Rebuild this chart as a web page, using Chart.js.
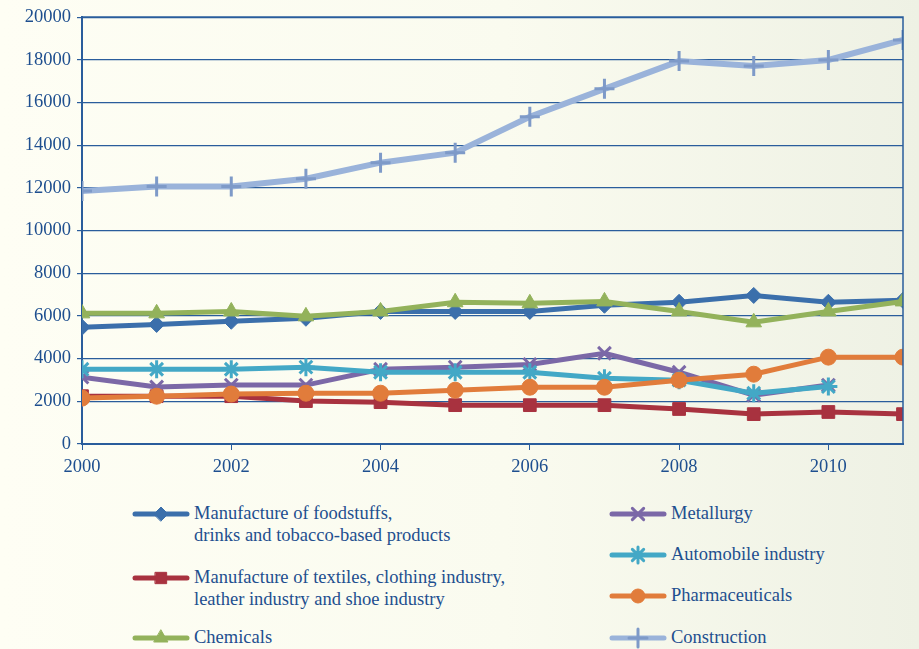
<!DOCTYPE html>
<html>
<head>
<meta charset="utf-8">
<script src="https://cdn.jsdelivr.net/npm/chart.js@4/dist/chart.umd.min.js"></script>
<style>
  body {
    margin: 0;
    width: 919px;
    height: 649px;
    overflow: hidden;
    background: linear-gradient(to right, #fefef4 0%, #fafbef 55%, #eef1e4 100%);
    font-family: "Liberation Serif", "Times New Roman", serif;
    color: #1e4f8f;
  }
  #wrap { position: absolute; left: 0; top: 0; width: 919px; height: 480px; }
  .item { position: absolute; font-size: 18.5px; line-height: 22px; white-space: nowrap; }
  .item canvas { position: absolute; }
</style>
</head>
<body>
<div id="wrap"><canvas id="chart" width="919" height="480"></canvas></div>
<div id="legend"></div>
<script>
const years = [2000, 2001, 2002, 2003, 2004, 2005, 2006, 2007, 2008, 2009, 2010, 2011];

const foodstuffs   = [5470, 5600, 5750, 5890, 6210, 6210, 6210, 6500, 6640, 6960, 6640, 6730];
const textiles     = [2240, 2240, 2240, 2010, 1960, 1820, 1820, 1820, 1640, 1400, 1500, 1400];
const chemicals    = [6120, 6120, 6210, 5980, 6210, 6640, 6590, 6680, 6210, 5700, 6210, 6680];
const metallurgy   = [3130, 2670, 2760, 2760, 3500, 3600, 3730, 4250, 3360, 2290, 2760, null];
const automobile   = [3500, 3500, 3500, 3600, 3360, 3360, 3360, 3080, 2990, 2380, 2690, null];
const pharma       = [2150, 2240, 2340, 2380, 2380, 2520, 2660, 2660, 2990, 3270, 4070, 4070];
const construction = [11850, 12060, 12060, 12430, 13180, 13650, 15330, 16640, 17940, 17710, 17990, 18930];

const seriesNames = [
  ["Manufacture of foodstuffs,", "drinks and tobacco-based products"],
  ["Manufacture of textiles, clothing industry,", "leather industry and shoe industry"],
  ["Chemicals"],
  ["Metallurgy"],
  ["Automobile industry"],
  ["Pharmaceuticals"],
  ["Construction"]
];

const axisColor = "#2a5d9c";
const textColor = "#1e4f8f";
const tickFont = { family: "Liberation Serif", size: 18.5 };

// line colour, marker colour, marker style, radius, stroke width
const styles = [
  { line: "#3b6fab", mark: "#3b6fab", shape: "rectRot",  r: 8,  w: 1 },
  { line: "#a8323f", mark: "#a8323f", shape: "rect",     r: 9,  w: 1 },
  { line: "#93b25b", mark: "#93b25b", shape: "triangle", r: 9,  w: 1 },
  { line: "#7b68a7", mark: "#7b68a7", shape: "crossRot", r: 9,  w: 3 },
  { line: "#43a8c6", mark: "#43a8c6", shape: "star",     r: 9,  w: 3 },
  { line: "#e17c3b", mark: "#e17c3b", shape: "circle",   r: 8,  w: 1 },
  { line: "#9ab3da", mark: "#7e9ac8", shape: "cross",    r: 10, w: 3 }
];

const values = [foodstuffs, textiles, chemicals, metallurgy, automobile, pharma, construction];

function toPoints(arr) {
  const pts = [];
  arr.forEach((v, i) => {
    if (v !== null) pts.push({ x: years[i], y: v });
  });
  return pts;
}

const datasets = values.map((arr, i) => ({
  label: seriesNames[i].join(" "),
  data: toPoints(arr),
  borderColor: styles[i].line,
  borderWidth: i === 6 ? 6 : 5,
  pointStyle: styles[i].shape,
  pointRadius: styles[i].r,
  pointBackgroundColor: styles[i].mark,
  pointBorderColor: styles[i].mark,
  pointBorderWidth: styles[i].w,
  tension: 0,
  order: values.length - 1 - i
}));

// outline of the plot area (top and right edges)
const frame = {
  id: "frame",
  afterDatasetsDraw(chart) {
    const a = chart.chartArea;
    const ctx = chart.ctx;
    ctx.save();
    ctx.strokeStyle = axisColor;
    ctx.lineWidth = 1.5;
    ctx.beginPath();
    ctx.moveTo(a.left, a.top);
    ctx.lineTo(a.right, a.top);
    ctx.lineTo(a.right, a.bottom);
    ctx.stroke();
    ctx.restore();
  }
};

new Chart(document.getElementById("chart"), {
  type: "line",
  data: { datasets },
  plugins: [frame],
  options: {
    responsive: false,
    devicePixelRatio: 1,
    animation: false,
    layout: { padding: { top: 16, right: 16, left: 0, bottom: 0 } },
    plugins: { legend: { display: false }, tooltip: { enabled: false } },
    scales: {
      x: {
        type: "linear",
        min: 2000,
        max: 2011,
        afterFit: (s) => { s.height = 36; },
        grid: { drawOnChartArea: false, tickLength: 6, color: axisColor },
        border: { color: axisColor, width: 2 },
        ticks: {
          stepSize: 2,
          includeBounds: false,
          maxRotation: 0,
          padding: 6,
          color: textColor,
          font: tickFont,
          callback: (v) => String(v)
        }
      },
      y: {
        min: 0,
        max: 20000,
        afterFit: (s) => { s.width = 82; },
        grid: { color: axisColor, lineWidth: 1.2, tickLength: 5 },
        border: { color: axisColor, width: 2 },
        ticks: {
          stepSize: 2000,
          padding: 6,
          color: textColor,
          font: tickFont,
          callback: (v) => String(v)
        }
      }
    }
  }
});

// legend below the plot, two columns
const legendSlots = [
  { x: 133, y: 514 },
  { x: 133, y: 578 },
  { x: 133, y: 638 },
  { x: 610, y: 514 },
  { x: 610, y: 555 },
  { x: 610, y: 596 },
  { x: 610, y: 638 }
];

const legend = document.getElementById("legend");
legendSlots.forEach((slot, i) => {
  const st = styles[i];
  const item = document.createElement("div");
  item.className = "item";
  item.style.left = slot.x + "px";
  item.style.top = (slot.y - 12) + "px";

  const c = document.createElement("canvas");
  c.width = 60;
  c.height = 24;
  c.style.left = "-2px";
  c.style.top = "0px";
  const ctx = c.getContext("2d");
  ctx.strokeStyle = st.line;
  ctx.lineWidth = 5;
  ctx.lineCap = "round";
  ctx.beginPath();
  ctx.moveTo(4, 12);
  ctx.lineTo(56, 12);
  ctx.stroke();
  ctx.fillStyle = st.mark;
  ctx.strokeStyle = st.mark;
  ctx.lineWidth = st.w;
  Chart.helpers.drawPoint(ctx, { pointStyle: st.shape, radius: st.r - 1, borderWidth: st.w, rotation: 0 }, 30, 12);
  item.appendChild(c);

  const txt = document.createElement("div");
  txt.style.position = "absolute";
  txt.style.left = "61px";
  txt.style.top = "0px";
  txt.innerHTML = seriesNames[i].join("<br>");
  item.appendChild(txt);
  legend.appendChild(item);
});
</script>
</body>
</html>
